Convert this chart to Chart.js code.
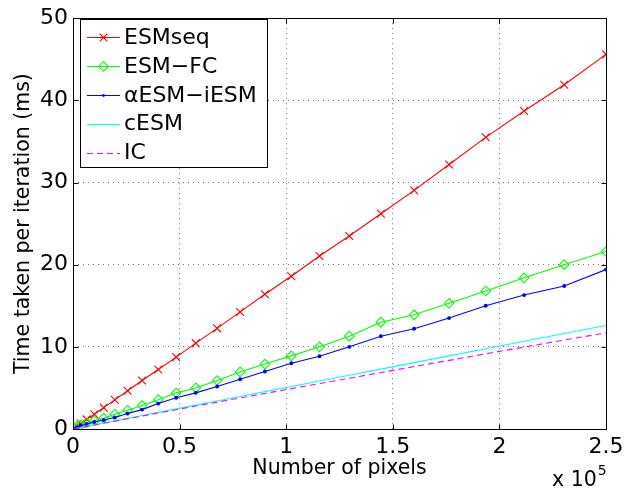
<!DOCTYPE html>
<html>
<head>
<meta charset="utf-8">
<script src="https://cdn.jsdelivr.net/npm/chart.js@4/dist/chart.umd.min.js"></script>
<style>
  html, body { margin: 0; padding: 0; background: #fff; }
  #wrap { width: 633px; height: 493px; }
</style>
</head>
<body>
<div id="wrap"><canvas id="c" width="633" height="493"></canvas></div>
<script>
// ---- data ----
const pixels = [400, 1600, 3600, 6400, 10000, 14400, 19600, 25600, 32400, 40000,
  48400, 57600, 67600, 78400, 90000, 102400, 115600, 129600, 144400, 160000,
  176400, 193600, 211600, 230400, 250000];
const esmSeq = [0.08, 0.3, 0.66, 1.17, 1.8, 2.6, 3.55, 4.65, 5.9, 7.25,
  8.75, 10.45, 12.25, 14.25, 16.4, 18.6, 21.05, 23.5, 26.2, 29.05,
  32.2, 35.5, 38.7, 41.9, 45.6];
const esmFC = [0.1, 0.3, 0.5, 0.76, 1.0, 1.32, 1.8, 2.28, 2.85, 3.57,
  4.4, 5.0, 5.9, 6.95, 7.9, 8.9, 10.0, 11.3, 13.0, 13.9,
  15.3, 16.8, 18.4, 20.0, 21.6];
const alphaEsmIEsm = [0.05, 0.2, 0.4, 0.6, 0.85, 1.1, 1.4, 1.88, 2.36, 3.1,
  3.8, 4.4, 5.17, 6.05, 7.0, 8.0, 8.85, 10.0, 11.3, 12.2,
  13.5, 15.0, 16.3, 17.4, 19.4];
const cEsm = [0.02, 0.08, 0.18, 0.32, 0.5, 0.73, 0.99, 1.29, 1.64, 2.02,
  2.45, 2.91, 3.41, 3.96, 4.55, 5.17, 5.84, 6.55, 7.29, 8.08,
  8.9, 9.77, 10.68, 11.63, 12.6];
const icSeries = [0.02, 0.08, 0.17, 0.31, 0.49, 0.7, 0.95, 1.24, 1.57, 1.94,
  2.35, 2.79, 3.27, 3.78, 4.33, 4.91, 5.53, 6.18, 6.87, 7.6,
  8.35, 9.15, 9.97, 10.83, 11.7];
const seriesLabels = ['ESMseq', 'ESM\u2212FC', '\u03b1ESM\u2212iESM', 'cESM', 'IC'];
const xTickValues = [0, 50000, 100000, 150000, 200000, 250000];
const xTickLabels = ['0', '0.5', '1', '1.5', '2', '2.5'];
const yTickValues = [0, 10, 20, 30, 40, 50];
const xTitle = 'Number of pixels';
const yTitle = 'Time taken per iteration (ms)';
const xExponentBase = 'x 10';
const xExponent = '5';

const FONT = '"DejaVu Sans", "Liberation Sans", Arial, sans-serif';

function pts(arr) { return pixels.map((p, i) => ({ x: p, y: arr[i] })); }

const styles = [
  { color: '#ff0000', pointStyle: 'crossRot', radius: 5.5, dash: [] },
  { color: '#00ff00', pointStyle: 'rectRot', radius: 4.8, dash: [] },
  { color: '#0000ff', pointStyle: 'circle', radius: 1.4, dash: [] },
  { color: '#00ffff', pointStyle: false, radius: 0, dash: [] },
  { color: '#ff00ff', pointStyle: false, radius: 0, dash: [6, 4] }
];
const seriesData = [esmSeq, esmFC, alphaEsmIEsm, cEsm, icSeries];

const datasets = seriesData.map((d, i) => ({
  label: seriesLabels[i],
  data: pts(d),
  borderColor: styles[i].color,
  backgroundColor: i === 2 ? styles[i].color : 'rgba(0,0,0,0)',
  pointBorderColor: styles[i].color,
  pointBackgroundColor: i === 2 ? styles[i].color : 'rgba(0,0,0,0)',
  borderWidth: 1.1,
  pointBorderWidth: 1.1,
  pointStyle: styles[i].pointStyle || 'circle',
  pointRadius: styles[i].radius,
  borderDash: styles[i].dash,
  tension: 0,
  fill: false,
  order: 5 - i
}));

function drawMarker(ctx, style, x, y, r, color) {
  ctx.save();
  ctx.strokeStyle = color; ctx.fillStyle = color; ctx.lineWidth = 1.1;
  ctx.setLineDash([]);
  ctx.beginPath();
  if (style === 'crossRot') {
    const d = r * Math.SQRT1_2;
    ctx.moveTo(x - d, y - d); ctx.lineTo(x + d, y + d);
    ctx.moveTo(x - d, y + d); ctx.lineTo(x + d, y - d);
    ctx.stroke();
  } else if (style === 'rectRot') {
    ctx.moveTo(x, y - r); ctx.lineTo(x + r, y); ctx.lineTo(x, y + r); ctx.lineTo(x - r, y); ctx.closePath();
    ctx.stroke();
  } else if (style === 'circle' && r > 0) {
    ctx.arc(x, y, r, 0, Math.PI * 2); ctx.fill();
  }
  ctx.restore();
}

const matlabPlugin = {
  id: 'matlabFrame',
  afterDraw(chart) {
    const { ctx, chartArea: a } = chart;
    const xs = chart.scales.x, ys = chart.scales.y;
    ctx.save();
    ctx.strokeStyle = '#000'; ctx.lineWidth = 1; ctx.setLineDash([]);
    const L = Math.round(a.left) + 0.5, R = Math.round(a.right) + 0.5;
    const T = Math.round(a.top) + 0.5, B = Math.round(a.bottom) + 0.5;
    ctx.strokeRect(L, T, R - L, B - T);
    ctx.beginPath();
    xTickValues.forEach(v => {
      const px = Math.round(xs.getPixelForValue(v)) + 0.5;
      ctx.moveTo(px, B); ctx.lineTo(px, B - 5);
      ctx.moveTo(px, T); ctx.lineTo(px, T + 5);
    });
    yTickValues.forEach(v => {
      const py = Math.round(ys.getPixelForValue(v)) + 0.5;
      ctx.moveTo(L, py); ctx.lineTo(L + 5, py);
      ctx.moveTo(R, py); ctx.lineTo(R - 5, py);
    });
    ctx.stroke();

    // legend
    const bx = 80.5, by = 19.5, bw = 187, bh = 148;
    ctx.fillStyle = '#fff';
    ctx.fillRect(bx, by, bw, bh);
    ctx.strokeRect(bx, by, bw, bh);
    ctx.font = '22px ' + FONT;
    ctx.textBaseline = 'middle';
    ctx.textAlign = 'left';
    seriesLabels.forEach((lab, i) => {
      const yy = 37 + i * 28.9;
      const st = styles[i];
      ctx.save();
      ctx.strokeStyle = st.color; ctx.lineWidth = 1.1;
      ctx.setLineDash(st.dash);
      ctx.beginPath(); ctx.moveTo(87, Math.round(yy) + 0.5); ctx.lineTo(120, Math.round(yy) + 0.5); ctx.stroke();
      ctx.restore();
      if (st.pointStyle) drawMarker(ctx, st.pointStyle, 103.5, Math.round(yy) + 0.5, st.radius, st.color);
      ctx.fillStyle = '#000';
      ctx.fillText(lab, 124, yy + 1);
    });

    // exponent label
    ctx.fillStyle = '#000';
    ctx.textBaseline = 'alphabetic';
    ctx.font = '20.5px ' + FONT;
    ctx.fillText(xExponentBase, 552, 486);
    const w = ctx.measureText(xExponentBase).width;
    ctx.font = '14px ' + FONT;
    ctx.fillText(xExponent, 552 + w + 1, 475);
    ctx.restore();
  }
};

new Chart(document.getElementById('c'), {
  type: 'line',
  data: { datasets },
  plugins: [matlabPlugin],
  options: {
    responsive: false,
    animation: false,
    events: [],
    layout: { padding: { top: 13, right: 27, left: 0, bottom: 0 } },
    plugins: { legend: { display: false }, tooltip: { enabled: false } },
    scales: {
      x: {
        type: 'linear', min: 0, max: 250000,
        afterBuildTicks: s => { s.ticks = xTickValues.map(v => ({ value: v })); },
        afterFit: s => { s.height = 64; },
        ticks: {
          color: '#000', padding: 5, maxRotation: 0, autoSkip: false,
          font: { family: FONT, size: 22, lineHeight: 1.2 },
          callback: v => xTickLabels[xTickValues.indexOf(v)]
        },
        grid: { color: 'rgba(0,0,0,0.55)', lineWidth: 1, drawTicks: false },
        border: { display: false, dash: [1, 4] },
        title: { display: true, text: xTitle, color: '#000', font: { family: FONT, size: 20.5, lineHeight: 1.2 }, padding: { top: 0, bottom: 12 } }
      },
      y: {
        type: 'linear', min: 0, max: 50,
        afterBuildTicks: s => { s.ticks = yTickValues.map(v => ({ value: v })); },
        afterFit: s => { s.width = 73; },
        ticks: {
          color: '#000', padding: 5,
          font: { family: FONT, size: 22, lineHeight: 1.2 },
          callback: v => String(v)
        },
        grid: { color: 'rgba(0,0,0,0.55)', lineWidth: 1, drawTicks: false },
        border: { display: false, dash: [1, 4] },
        title: { display: true, text: yTitle, color: '#000', font: { family: FONT, size: 20.5, lineHeight: 1.2 }, padding: { top: 11, bottom: 0 } }
      }
    }
  }
});
</script>
</body>
</html>
